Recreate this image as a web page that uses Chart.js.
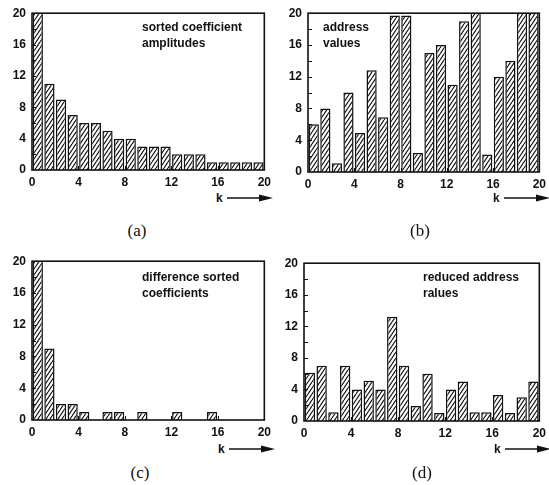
<!DOCTYPE html>
<html>
<head>
<meta charset="utf-8">
<script src="https://cdn.jsdelivr.net/npm/chart.js@4"></script>
<style>
  body { margin: 0; width: 549px; height: 485px; overflow: hidden; background: #fff; position: relative; }
  canvas { position: absolute; }
  .note { position: absolute; font: bold 12px "Liberation Sans", Arial, sans-serif; line-height: 16px; color: #111; white-space: nowrap; }
  .kax { position: absolute; display: flex; align-items: center; font: bold 12px "Liberation Sans", Arial, sans-serif; color: #111; }
  .kax svg { margin-left: 4px; }
  .cap { position: absolute; width: 40px; text-align: center; font: 17px "Liberation Serif", "Times New Roman", serif; color: #111; }
</style>
</head>
<body>
<canvas id="chartA" width="276" height="190" style="left:0;top:0"></canvas>
<canvas id="chartB" width="275" height="192" style="left:276px;top:0"></canvas>
<canvas id="chartC" width="276" height="192" style="left:0;top:248px"></canvas>
<canvas id="chartD" width="279" height="191" style="left:272px;top:250px"></canvas>

<div class="note" style="left:142px;top:19px">sorted coefficient<br>amplitudes</div>
<div class="note" style="left:323px;top:19px">address<br>values</div>
<div class="note" style="left:142px;top:269px">difference sorted<br>coefficients</div>
<div class="note" style="left:423px;top:269px">reduced address<br>ralues</div>

<div class="kax" style="left:216px;top:191px">k<svg width="46" height="8"><line x1="0" y1="4" x2="36" y2="4" stroke="#111" stroke-width="1.5"/><polygon points="32,0.5 46,4 32,7.5" fill="#111"/></svg></div>
<div class="kax" style="left:493px;top:191px">k<svg width="46" height="8"><line x1="0" y1="4" x2="36" y2="4" stroke="#111" stroke-width="1.5"/><polygon points="32,0.5 46,4 32,7.5" fill="#111"/></svg></div>
<div class="kax" style="left:218px;top:442px">k<svg width="46" height="8"><line x1="0" y1="4" x2="36" y2="4" stroke="#111" stroke-width="1.5"/><polygon points="32,0.5 46,4 32,7.5" fill="#111"/></svg></div>
<div class="kax" style="left:494px;top:442px">k<svg width="46" height="8"><line x1="0" y1="4" x2="36" y2="4" stroke="#111" stroke-width="1.5"/><polygon points="32,0.5 46,4 32,7.5" fill="#111"/></svg></div>

<div class="cap" style="left:117px;top:221px">(a)</div>
<div class="cap" style="left:400px;top:221px">(b)</div>
<div class="cap" style="left:120px;top:463px">(c)</div>
<div class="cap" style="left:402px;top:463px">(d)</div>

<script>
// k index of each bar (bar k sits between tick k and k+1)
const k = [0, 1, 2, 3, 4, 5, 6, 7, 8, 9, 10, 11, 12, 13, 14, 15, 16, 17, 18, 19];
const axisTicks = [0, 4, 8, 12, 16, 20];

// values (bars above 20 run off the top)
const sortedAmplitudes = [21, 11, 9, 7, 6, 6, 5, 4, 4, 3, 3, 3, 2, 2, 2, 1, 1, 1, 1, 1];
const addressValues = [6, 8, 1.1, 10, 4.9, 12.8, 6.9, 19.7, 19.7, 2.4, 15, 16, 11, 19, 21, 2.2, 12, 14, 21, 21];
const diffSorted = [21, 9, 2, 2, 1, 0, 1, 1, 0, 1, 0, 0, 1, 0, 0, 1, 0, 0, 0, 0];
const reducedAddress = [6.1, 7, 1.1, 7, 4, 5.1, 4, 13.2, 7, 1.9, 6, 1, 4, 5, 1.1, 1.1, 3.3, 1, 3, 5];

// hatch fill "/" like the printed figure
function hatch() {
  const c = document.createElement('canvas');
  const w = 4, h = 6;
  c.width = w; c.height = h;
  const g = c.getContext('2d');
  g.fillStyle = '#fff';
  g.fillRect(0, 0, w, h);
  g.strokeStyle = '#111';
  g.lineWidth = 1.2;
  g.beginPath();
  g.moveTo(-w, h); g.lineTo(0, 0);
  g.moveTo(0, h); g.lineTo(w, 0);
  g.moveTo(w, h); g.lineTo(2 * w, 0);
  g.stroke();
  return g.createPattern(c, 'repeat');
}

// box round the plot and small inward ticks
const frame = {
  id: 'frame',
  afterDatasetsDraw(chart) {
    const { ctx, chartArea: a, scales } = chart;
    ctx.save();
    ctx.strokeStyle = '#111';
    ctx.lineWidth = 1;
    ctx.beginPath();
    for (let v = 2; v < 20; v += 2) {
      const py = Math.round(scales.y.getPixelForValue(v)) + 0.5;
      ctx.moveTo(a.left, py); ctx.lineTo(a.left + 4, py);
    }
    for (let v = 4; v < 20; v += 4) {
      const px = Math.round(scales.x.getPixelForValue(v)) + 0.5;
      ctx.moveTo(px, a.bottom); ctx.lineTo(px, a.bottom - 4);
    }
    ctx.stroke();
    ctx.lineWidth = 1.6;
    ctx.strokeRect(a.left, a.top, a.right - a.left, a.bottom - a.top);
    ctx.restore();
  }
};

const tickFont = { family: '"Liberation Sans", Arial, sans-serif', size: 12, weight: 'bold' };

function makeChart(id, values, padTop, padRight) {
  const ctx = document.getElementById(id).getContext('2d');
  return new Chart(ctx, {
    type: 'bar',
    data: {
      datasets: [{
        data: values.map((v, i) => ({ x: k[i] + 0.5, y: v })),
        backgroundColor: hatch(),
        borderColor: '#111',
        borderWidth: 1.5,
        barPercentage: 0.88,
        categoryPercentage: 1,
        clip: 0
      }]
    },
    options: {
      responsive: false,
      animation: false,
      devicePixelRatio: 1,
      layout: { autoPadding: false, padding: { top: padTop, right: padRight, left: 0, bottom: 0 } },
      plugins: { legend: { display: false }, tooltip: { enabled: false } },
      scales: {
        x: {
          type: 'linear',
          min: 0,
          max: 20,
          offset: false,
          grid: { display: false, drawTicks: false },
          border: { display: false },
          afterBuildTicks: s => { s.ticks = axisTicks.map(v => ({ value: v })); },
          afterFit: s => { s.height = 20; },
          ticks: { font: tickFont, color: '#111', padding: 5, maxRotation: 0 }
        },
        y: {
          min: 0,
          max: 20,
          grid: { display: false, drawTicks: false },
          border: { display: false },
          afterBuildTicks: s => { s.ticks = axisTicks.map(v => ({ value: v })); },
          afterFit: s => { s.width = 32; },
          ticks: { font: tickFont, color: '#111', padding: 6 }
        }
      }
    },
    plugins: [frame]
  });
}

makeChart('chartA', sortedAmplitudes, 13, 4);
makeChart('chartB', addressValues, 12, 0);
makeChart('chartC', diffSorted, 13, 4);
makeChart('chartD', reducedAddress, 12, 0);
</script>
</body>
</html>
